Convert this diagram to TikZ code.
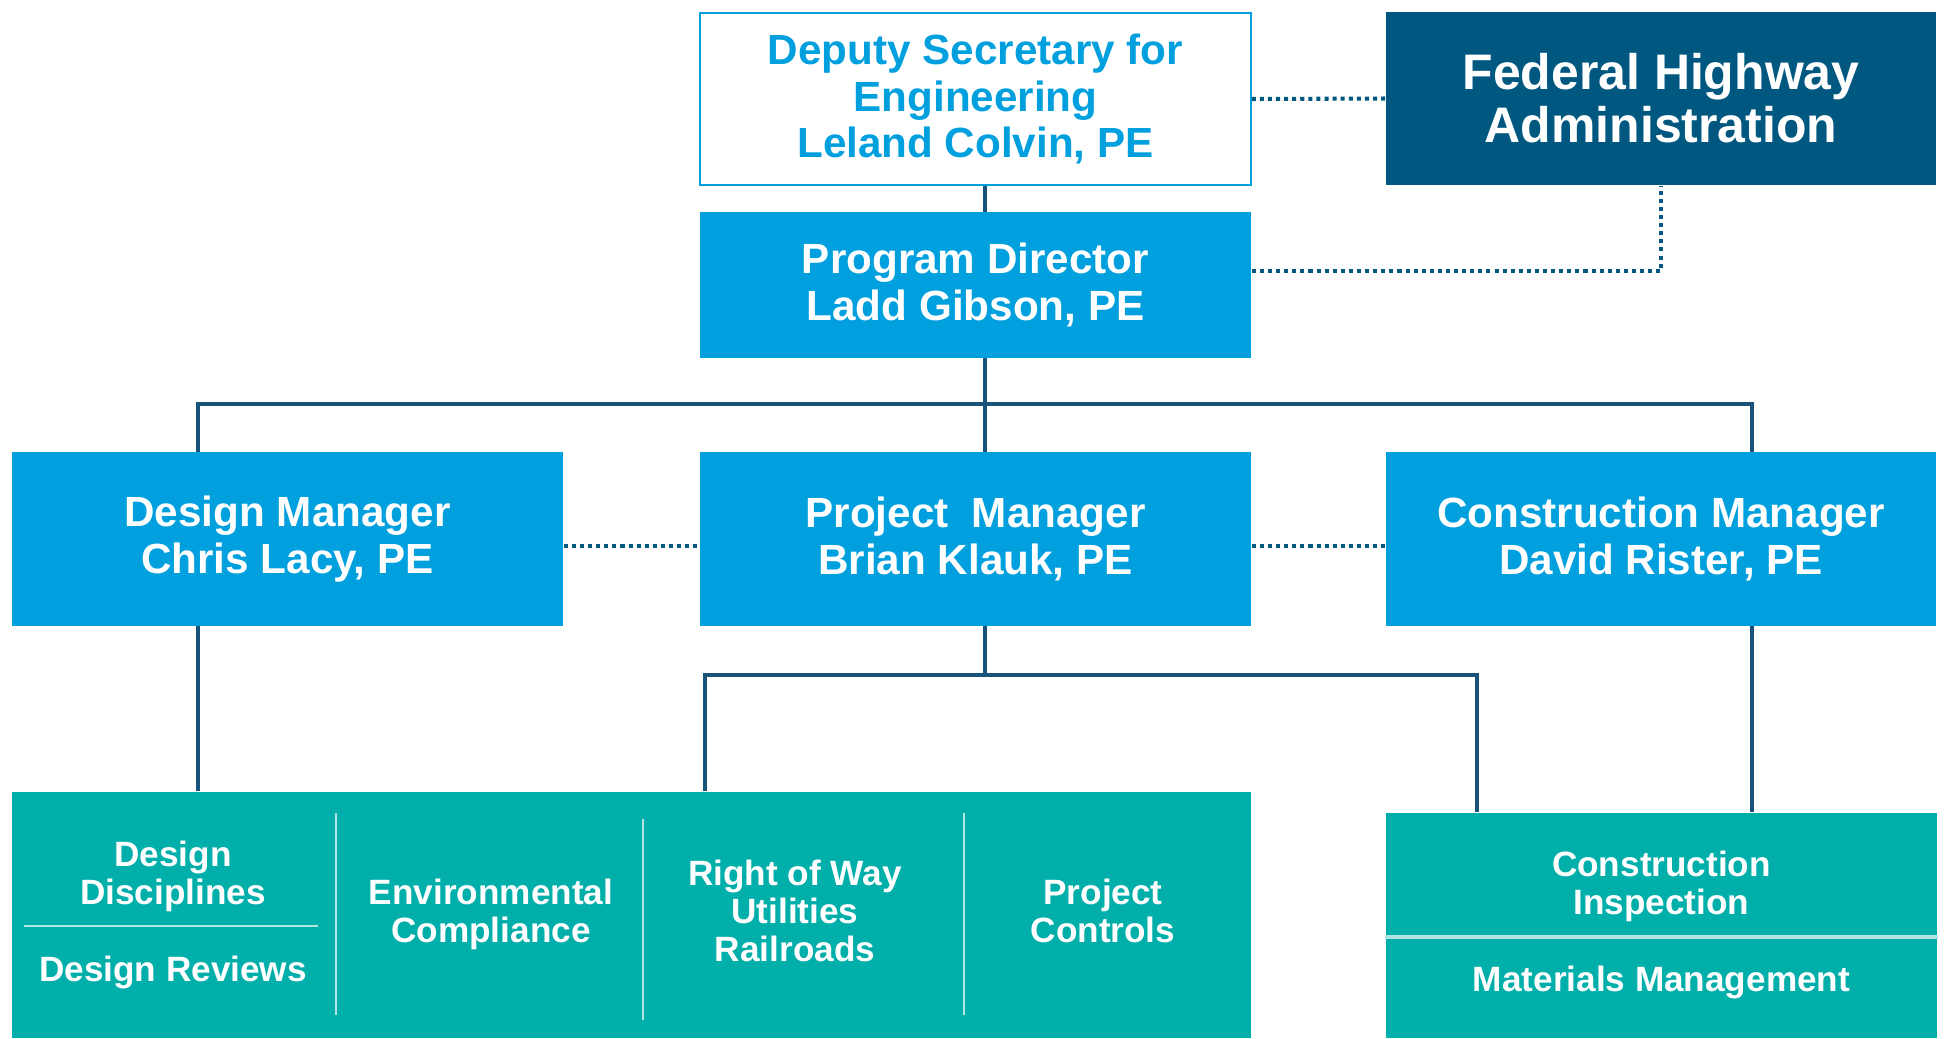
\documentclass[tikz,border=0pt]{standalone}
\usepackage{fontspec}
\setmainfont{Liberation Sans}
\usepackage{tikz}
\definecolor{lblue}{RGB}{0,160,223}
\definecolor{navy}{RGB}{0,88,128}
\definecolor{tealbox}{RGB}{0,174,170}
\definecolor{wire}{RGB}{24,84,122}
\definecolor{split}{RGB}{178,228,226}

\begin{document}
\begin{tikzpicture}[x=0.01cm,y=-0.01cm,
  box/.style={fill=lblue,text=white,align=center,inner sep=0pt,minimum width=5.51cm,minimum height=1.73cm,font=\bfseries\fontsize{12}{13.4}\selectfont},
  head/.style={draw=lblue,line width=0.6pt,fill=white,text=lblue,align=center,inner sep=0pt,minimum width=5.50cm,minimum height=1.72cm,font=\bfseries\fontsize{12}{13.1}\selectfont},
  dark/.style={fill=navy,text=white,align=center,inner sep=0pt,minimum width=5.50cm,minimum height=1.73cm,font=\bfseries\fontsize{14.2}{15.1}\selectfont},
  sub/.style={fill=tealbox,inner sep=0pt},
  lbl/.style={text=white,align=center,inner sep=0pt,font=\bfseries\fontsize{10}{10.8}\selectfont},
  wireline/.style={-,line width=1.15pt,wire},
  dotline/.style={-,line width=1.15pt,navy,dash pattern=on 1.15pt off 1.15pt},
  splitline/.style={-,line width=0.6pt,split}]
\useasboundingbox (0,0) rectangle (1947,1038);
\node[head] (dep) at (975.5,99) {Deputy Secretary for\\Engineering\\Leland Colvin, PE};
\node[dark] (fhwa) at (1661,98.5) {Federal Highway\\Administration};
\node[box,minimum height=1.45cm] (pd) at (975.5,285) {Program Director\\Ladd Gibson, PE};
\node[box] (dm) at (287.5,539) {Design Manager\\Chris Lacy, PE};
\node[box] (pm) at (975.5,539) {Project\ \ Manager\\Brian Klauk, PE};
\node[box,minimum width=5.50cm] (cm) at (1661,539) {Construction Manager\\David Rister, PE};
\node[sub,minimum width=12.39cm,minimum height=2.46cm] (grp) at (631.5,915) {};
\node[sub,minimum width=5.51cm,minimum height=2.25cm] (ci) at (1661.5,925.5) {};
\draw[splitline] (336,813) -- (336,1015);
\draw[splitline] (643,819) -- (643,1020);
\draw[splitline] (964,813) -- (964,1015);
\draw[splitline] (24,926) -- (318,926);
\draw[line width=1pt,split] (ci.west |- 0,937) -- (ci.east |- 0,937);
\node[lbl] (dd) at (173,876.5) {Design\\Disciplines};
\node[lbl] (dr) at (173,972.5) {Design Reviews};
\node[lbl] (env) at (491,914.5) {Environmental\\Compliance};
\node[lbl] (row) at (795,910.5) {Right of Way\\Utilities\\Railroads};
\node[lbl] (ctl) at (1103,911) {Project\\Controls};
\node[lbl] (ins) at (1661.5,886.5) {Construction\\Inspection};
\node[lbl] (mat) at (1661.5,982.5) {Materials Management};
\draw[wireline] (985,0 |- dep.south) -- (985,0 |- pd.north);
\draw[wireline] (985,0 |- pd.south) -- (985,0 |- pm.north);
\draw[wireline] (198,0 |- dm.north) -- (198,404) -- (1752,404) -- (1752,0 |- cm.north);
\draw[wireline] (198,0 |- dm.south) -- (198,0 |- grp.north);
\draw[wireline] (1752,0 |- cm.south) -- (1752,0 |- ci.north);
\draw[wireline] (985,0 |- pm.south) -- (985,675);
\draw[wireline] (705,0 |- grp.north) -- (705,675) -- (1477,675) -- (1477,0 |- ci.north);
\draw[dotline] (dep.east) -- (fhwa.west);
\draw[dotline] (pd.east |- 0,271) -- (1661,271) -- (1661,0 |- fhwa.south);
\draw[dotline] (dm.east |- 0,546) -- (pm.west |- 0,546);
\draw[dotline] (pm.east |- 0,546) -- (cm.west |- 0,546);
\end{tikzpicture}
\end{document}
